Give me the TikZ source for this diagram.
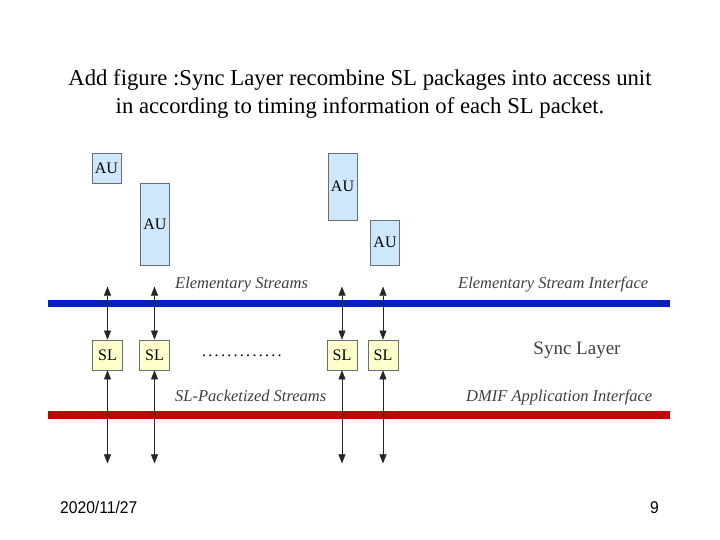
\documentclass[tikz,border=0pt]{standalone}
\usepackage{fontspec}
\setmainfont{Liberation Serif}
\newfontfamily\footfont{Liberation Sans}
\usetikzlibrary{arrows.meta, positioning}

\definecolor{auFill}{RGB}{205,232,250}
\definecolor{slFill}{RGB}{255,255,204}
\definecolor{boxLine}{RGB}{105,110,118}
\definecolor{esBlue}{RGB}{10,30,200}
\definecolor{dmifRed}{RGB}{200,0,0}

\begin{document}
\begin{tikzpicture}[
    x=1pt, y=-1pt,
    every node/.style={font=\fontsize{16}{18}\selectfont},
    aubox/.style={draw=boxLine, fill=auFill, thick, inner sep=0pt, minimum width=29pt},
    slbox/.style={draw=boxLine, fill=slFill, thick, inner sep=0pt, minimum width=30pt, minimum height=30pt},
    bus/.style={line width=7pt},
    flow/.style={{Triangle[length=9pt,width=7pt]}-{Triangle[length=9pt,width=7pt]}, black!85, thin},
    lbl/.style={font=\fontsize{16.5}{18}\selectfont\itshape, text=black!75, anchor=base west, inner sep=0pt}
  ]

    % page frame
    \fill[white] (0,0) rectangle (720,540);

    % title
    \node[font=\fontsize{22.7}{28}\selectfont, align=center] (title) at (360,94)
      {Add figure :Sync Layer recombine SL packages into access unit\\
       in according to timing information of each SL packet.};

    % access units
    \node[aubox, minimum height=30pt] (au1) at (106.5,168) {AU};
    \node[aubox, minimum height=82pt] (au2) at (155,224) {AU};
    \node[aubox, minimum height=67pt] (au3) at (342.5,186.5) {AU};
    \node[aubox, minimum height=45pt] (au4) at (385,242.5) {AU};

    % interfaces
    \draw[bus, esBlue] (48,303.5) -- (670,303.5);
    \draw[bus, dmifRed, line width=8pt] (48,414.5) -- (670,414.5);

    % sync layer boxes
    \node[slbox] (sl1) at (107.5,355) {SL};
    \node[slbox] (sl2) at (154.5,355) {SL};
    \node[slbox] (sl3) at (342,355) {SL};
    \node[slbox] (sl4) at (383,355) {SL};
    \node[inner sep=0pt] (dots) at (242,356)
      {\hbox to 82pt{\leaders\hbox to 6.3pt{\hss.\hss}\hfill}};

    % streams up and down
    \foreach \s in {1,2,3,4} {
      \coordinate (top\s) at ([yshift=53pt]sl\s.north);
      \coordinate (bot\s) at ([yshift=-93pt]sl\s.south);
      \draw[flow] (top\s) -- (sl\s.north);
      \draw[flow] (sl\s.south) -- (bot\s);
    }

    % labels
    \node[lbl] (es) at (175,288) {Elementary Streams};
    \node[lbl] (esi) at (458,288) {Elementary Stream Interface};
    \node[lbl] (sps) at (175,401) {SL-Packetized Streams};
    \node[lbl] (dmif) at (466,401) {DMIF Application Interface};
    \node[font=\fontsize{19}{21}\selectfont, text=black!75] (sync) at (577,350) {Sync Layer};

    % footer
    \node[font=\footfont\fontsize{17}{19}\selectfont, anchor=base west, inner sep=0pt] (date) at (60,513)
      {\scalebox{0.92}[1]{2020/11/27}};
    \node[font=\footfont\fontsize{17}{19}\selectfont, anchor=base east, inner sep=0pt] (page) at (659,513)
      {\scalebox{0.92}[1]{9}};

  \end{tikzpicture}
\end{document}
